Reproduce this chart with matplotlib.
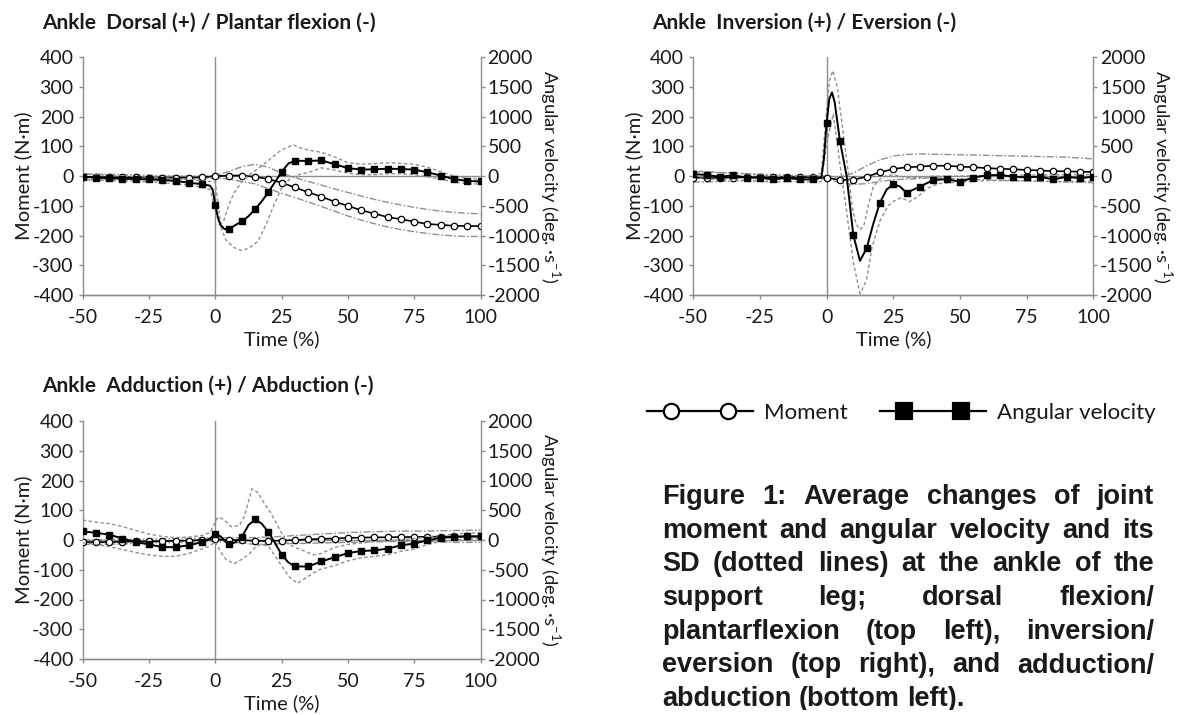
import matplotlib.pyplot as plt
import matplotlib as mpl
import numpy as np
from matplotlib.lines import Line2D
from matplotlib.legend_handler import HandlerLine2D
from matplotlib.transforms import Bbox, TransformedBbox

# ---------------- data (moment in N*m on left axis, angular velocity in deg/s on right axis)
# Panel 1: dorsal / plantar flexion
p1_mom_t = [-50, -45, -40, -35, -30, -25, -20, -15, -10, -5, 0, 5, 10, 15, 20, 25, 30, 35, 40, 45,
            50, 55, 60, 65, 70, 75, 80, 85, 90, 95, 100]
p1_mom = [-3, -3, -4, -4, -4, -5, -5, -5, -5, -4, 0, 2, 2, -2, -10, -22, -38, -54, -69, -86,
          -100, -115, -126, -138, -145, -153, -161, -164, -167, -168, -168]
p1_mom_sd_t = [-50, -40, -30, -20, -10, -5, 0, 5, 10, 15, 20, 25, 30, 35, 40, 45, 50, 55, 60, 65,
               70, 75, 80, 85, 90, 95, 100]
p1_mom_hi = [8, 6, 4, 2, 0, 0, 2, 15, 32, 40, 30, 10, -5, -18, -30, -43, -55, -67, -78, -88,
             -97, -105, -112, -118, -122, -125, -127]
p1_mom_lo = [-12, -12, -11, -11, -10, -10, -5, -10, -18, -26, -42, -58, -72, -87, -102, -118, -134,
             -148, -160, -171, -180, -187, -193, -198, -201, -203, -203]
p1_av_t = [-50, -45, -40, -35, -30, -25, -20, -15, -10, -5, -2, -1, 0, 1, 2, 3.5, 5, 7.5, 10, 12.5,
           15, 17.5, 20, 22.5, 25, 27.5, 30, 35, 40, 45, 50, 55, 60, 65, 70, 75, 80, 85, 90, 95, 100]
p1_av = [-10, -25, -35, -40, -50, -55, -65, -80, -110, -135, -160, -225, -485, -700, -825, -890,
         -895, -825, -760, -675, -555, -425, -270, -100, 70, 210, 260, 255, 265, 200, 135, 110, 115,
         125, 120, 110, 65, 10, -50, -80, -90]
p1_av_hi_t = [-50, -40, -30, -20, -10, -5, -2, 0, 1, 2, 3, 5, 7, 10, 12, 15, 18, 21, 24, 27, 29.5,
              32, 35, 40, 45, 50, 55, 60, 65, 70, 75, 80, 85, 90, 95, 100]
p1_av_hi = [40, 15, -10, -25, -60, -75, -90, -100, -450, -800, -775, -500, -285, -100, 0, 90, 190,
            300, 410, 485, 525, 475, 440, 400, 325, 225, 200, 210, 225, 215, 200, 150, 75, 0, -40, -50]
p1_av_lo_t = [-50, -40, -30, -20, -10, -5, -2, 0, 2, 4, 7, 10, 13, 16, 19, 22, 25, 28, 31, 35, 40,
              45, 50, 55, 60, 65, 70, 75, 80, 85, 90, 95, 100]
p1_av_lo = [-60, -75, -85, -110, -150, -190, -225, -550, -850, -1075, -1200, -1255, -1200, -1100,
            -825, -500, -200, -50, 20, 60, 140, 100, 50, 25, 25, 40, 40, 25, -10, -50, -100, -125, -135]

# Panel 2: inversion / eversion
p2_mom_t = p1_mom_t
p2_mom = [-5, -7, -5, -5, -4, -4, -4, -3, -3, -4, -5, -13, -12, -2, 13, 24, 30, 32, 35, 35,
          32, 30, 27, 25, 23, 21, 19, 17, 16, 15, 14]
p2_mom_sd_t = [-50, -40, -30, -20, -10, 0, 5, 10, 15, 20, 25, 30, 35, 40, 50, 60, 70, 80, 90, 100]
p2_mom_hi = [15, 12, 8, 5, 3, 0, -3, 10, 35, 55, 68, 73, 75, 74, 72, 70, 68, 66, 64, 58]
p2_mom_lo = [-20, -18, -15, -12, -10, -10, -22, -28, -25, -18, -12, -10, -8, -5, -10, -12, -15,
             -18, -20, -22]
p2_av_t = [-50, -45, -40, -35, -30, -25, -20, -15, -10, -5, -2, -1, 0, 1, 2, 3, 5, 7.5, 10, 12.5,
           15, 17.5, 20, 22.5, 25, 27.5, 30, 35, 40, 45, 50, 55, 60, 65, 70, 75, 80, 85, 90, 95, 100]
p2_av = [35, 20, -10, 15, -25, -25, -55, -25, -55, -55, -25, 300, 900, 1300, 1410, 1250, 590, 0,
         -990, -1425, -1215, -800, -445, -225, -135, -175, -280, -175, -65, -50, -95, -25, 15, 20,
         -10, -20, -10, -55, -10, -35, -10]
p2_av_hi_t = [-50, -40, -30, -20, -10, -5, -2, 0, 1, 2.3, 4, 6, 8, 9.5, 11, 12.5, 14, 15.5, 17.5,
              20, 22, 25, 30, 35, 40, 50, 60, 70, 80, 90, 100]
p2_av_hi = [90, 60, 40, 0, 0, 10, 50, 1100, 1600, 1775, 1500, 800, 100, -500, -800, -900, -825,
            -515, -175, -50, 0, 25, -25, -25, 0, 0, 10, 15, 20, 25, 25]
p2_av_lo_t = [-50, -40, -30, -20, -10, -5, -2, 0, 2.5, 5, 7.5, 10, 12.5, 15, 17, 20, 23, 25, 28,
              31, 34, 38, 42, 50, 60, 70, 80, 90, 100]
p2_av_lo = [-25, -60, -75, -100, -90, -100, -90, 550, 1050, 200, -600, -1450, -1975, -1750, -1200,
            -750, -500, -425, -360, -430, -350, -200, -125, -100, -75, -75, -85, -90, -90]

# Panel 3: adduction / abduction
p3_mom_t = p1_mom_t
p3_mom = [-7, -7, -7, -6, -5, -5, -4, -3, -2, 0, 2, 0, 0, -3, -3, -2, 0, 2, 4, 5,
          7, 8, 9, 9, 10, 10, 11, 11, 12, 12, 12]
p3_mom_sd_t = [-50, -40, -30, -20, -10, 0, 5, 10, 15, 20, 25, 30, 40, 50, 60, 70, 80, 90, 100]
p3_mom_hi = [0, 2, 3, 4, 5, 8, 7, 8, 8, 10, 12, 15, 20, 25, 28, 30, 30, 32, 33]
p3_mom_lo = [-15, -14, -12, -10, -8, -5, -8, -10, -15, -15, -12, -12, -10, -8, -6, -5, -5, -8, -8]
p3_av_t = [-50, -45, -40, -35, -30, -25, -20, -15, -10, -5, -2, 0, 2, 5, 7.5, 10, 12.5, 15, 17.5,
           20, 22.5, 25, 27.5, 30, 35, 40, 45, 50, 55, 60, 65, 70, 75, 80, 85, 90, 95, 100]
p3_av = [145, 120, 90, 25, -35, -75, -120, -120, -90, -35, 25, 105, 60, -75, -40, 50, 250, 345,
         275, 135, -50, -245, -375, -445, -445, -360, -290, -220, -185, -175, -145, -90, -60, -5,
         35, 50, 60, 60]
p3_av_hi_t = [-50, -45, -40, -35, -30, -25, -20, -15, -10, -5, -2, 1, 3, 6, 9, 11, 13.8, 16, 18,
              21, 24, 27, 30, 33, 37, 40, 45, 50, 55, 60, 70, 80, 90, 100]
p3_av_hi = [335, 300, 275, 225, 160, 100, 60, 40, 50, 75, 125, 385, 350, 225, 240, 400, 860, 800,
            650, 450, 200, -50, -125, -175, -250, -225, -125, -75, -50, -25, 0, 50, 100, 125]
p3_av_lo_t = [-50, -45, -40, -35, -30, -25, -20, -15, -10, -5, -2, 0, 2, 4, 7, 10, 13, 15, 17, 20,
              23, 26, 28, 31, 34.5, 39, 45, 50, 55, 60, 65, 70, 75, 80, 85, 90, 95, 100]
p3_av_lo = [-45, -75, -110, -160, -210, -250, -275, -275, -225, -150, -100, -25, -200, -325, -400,
            -325, -225, -125, -75, -100, -300, -500, -625, -730, -625, -500, -430, -350, -300, -275,
            -250, -190, -150, -75, -25, 0, 15, 25]

titles = ['Ankle  Dorsal (+) / Plantar flexion (-)',
          'Ankle  Inversion (+) / Eversion (-)',
          'Ankle  Adduction (+) / Abduction (-)']

caption_lines = ['Figure 1: Average changes of joint',
                 'moment and angular velocity and its',
                 'SD (dotted lines) at the ankle of the',
                 'support leg; dorsal flexion/',
                 'plantarflexion (top left), inversion/',
                 'eversion (top right), and adduction/',
                 'abduction (bottom left).']

W, H = 1180, 715
GRAY = '#8c8c8c'
SD_GRAY = '#8f8f8f'


def px(x, y):
    # pixel position (from top-left) -> figure fraction
    return x / W, 1 - y / H


def draw_panel(fig, box, title, mom, av):
    left, top, right, bottom = box
    x0, y0 = px(left, bottom)
    ax = fig.add_axes([x0, y0, (right - left) / W, (bottom - top) / H])
    ax2 = ax.twinx()

    for a in (ax, ax2):
        a.spines['top'].set_visible(False)
        for s in ('left', 'right', 'bottom'):
            a.spines[s].set_color(GRAY)
            a.spines[s].set_linewidth(1.0)
        a.tick_params(which='major', direction='out', length=3, width=1, color=GRAY,
                      labelsize=14, pad=2)
    ax.tick_params(axis='x', pad=7)
    ax.tick_params(axis='y', pad=3.5)
    ax2.spines['left'].set_visible(False)
    ax.spines['right'].set_visible(False)

    ax.set_xlim(-50, 100)
    ax.set_ylim(-400, 400)
    ax2.set_ylim(-2000, 2000)
    ax.set_xticks(np.arange(-50, 101, 25))
    ax.set_yticks(np.arange(-400, 401, 100))
    ax2.set_yticks(np.arange(-2000, 2001, 500))

    ax.axhline(0, color=GRAY, lw=1.0, zorder=1)
    ax.axvline(0, color=GRAY, lw=1.0, zorder=1)

    # SD bands
    ax.plot(mom['sd_t'], mom['hi'], color=SD_GRAY, lw=1.0, dashes=(5, 1.5, 1.2, 1.5))
    ax.plot(mom['sd_t'], mom['lo'], color=SD_GRAY, lw=1.0, dashes=(5, 1.5, 1.2, 1.5))
    ax2.plot(av['hi_t'], av['hi'], color=SD_GRAY, lw=1.0, dashes=(2.5, 1.8))
    ax2.plot(av['lo_t'], av['lo'], color=SD_GRAY, lw=1.0, dashes=(2.5, 1.8))

    # means, markers every 5 %
    t = np.array(mom['t'])
    ax.plot(t, mom['y'], color='black', lw=1.2, marker='o', ms=4.6, mfc='white', mec='black',
            mew=0.9, markevery=list(t % 5 == 0), zorder=3)
    t = np.array(av['t'])
    ax2.plot(t, av['y'], color='black', lw=1.4, marker='s', ms=4.2, mfc='black', mec='black',
             markevery=list(t % 5 == 0), zorder=3)

    ax.set_xlabel('Time (%)', fontsize=14.5, labelpad=3)
    ax.set_ylabel('Moment (N\u00b7m)', fontsize=14.5, labelpad=0)
    ax2.set_ylabel('Angular velocity (deg. \u00b7s$^{\\mathregular{-1}}$)', fontsize=13.2,
                   rotation=270, labelpad=16)

    tx, ty = px(left - 41, top - 35)
    fig.text(tx, ty, title, fontsize=15, fontweight='bold', va='center', ha='left')
    return ax, ax2


def justify_caption(fig, lines, left, right, y_first, dy, size, clip_y):
    renderer = fig.canvas.get_renderer()
    clip = TransformedBbox(Bbox([[0, 1 - clip_y / H], [1, 1]]), fig.transFigure)
    space = None
    for i, line in enumerate(lines):
        words = line.split()
        y = px(0, y_first + i * dy)[1]
        texts = [fig.text(0, y, w, fontsize=size, fontweight='bold', family='Liberation Sans',
                          va='center', ha='left') for w in words]
        widths = [tt.get_window_extent(renderer).width for tt in texts]
        if space is None:
            probe = fig.text(0, 0, 'a a', fontsize=size, fontweight='bold',
                             family='Liberation Sans')
            probe2 = fig.text(0, 0, 'aa', fontsize=size, fontweight='bold',
                              family='Liberation Sans')
            space = (probe.get_window_extent(renderer).width
                     - probe2.get_window_extent(renderer).width)
            probe.remove()
            probe2.remove()
        if i == len(lines) - 1:
            gap = space
        else:
            gap = (right - left - sum(widths)) / (len(words) - 1)
        x = left
        for tt, w in zip(texts, widths):
            tt.set_x(x / W)
            tt.set_clip_box(clip)
            tt.set_clip_on(True)
            x += w + gap


def main():
    mpl.rcParams['font.family'] = ['Lato', 'DejaVu Sans']
    mpl.rcParams['axes.unicode_minus'] = False
    mpl.rcParams['text.color'] = '#1a1a1a'
    mpl.rcParams['xtick.color'] = '#1a1a1a'
    mpl.rcParams['ytick.color'] = '#1a1a1a'
    mpl.rcParams['axes.labelcolor'] = '#1a1a1a'

    fig = plt.figure(figsize=(W / 100, H / 100), dpi=100)

    panels = [
        ((82.7, 57.3, 480.5, 295.0), titles[0],
         dict(t=p1_mom_t, y=p1_mom, sd_t=p1_mom_sd_t, hi=p1_mom_hi, lo=p1_mom_lo),
         dict(t=p1_av_t, y=p1_av, hi_t=p1_av_hi_t, hi=p1_av_hi, lo_t=p1_av_lo_t, lo=p1_av_lo)),
        ((693.3, 57.3, 1093.3, 295.0), titles[1],
         dict(t=p2_mom_t, y=p2_mom, sd_t=p2_mom_sd_t, hi=p2_mom_hi, lo=p2_mom_lo),
         dict(t=p2_av_t, y=p2_av, hi_t=p2_av_hi_t, hi=p2_av_hi, lo_t=p2_av_lo_t, lo=p2_av_lo)),
        ((82.7, 421.0, 480.5, 659.0), titles[2],
         dict(t=p3_mom_t, y=p3_mom, sd_t=p3_mom_sd_t, hi=p3_mom_hi, lo=p3_mom_lo),
         dict(t=p3_av_t, y=p3_av, hi_t=p3_av_hi_t, hi=p3_av_hi, lo_t=p3_av_lo_t, lo=p3_av_lo)),
    ]
    for box, title, mom, av in panels:
        draw_panel(fig, box, title, mom, av)

    # legend: line running past the two markers on both sides
    legend_items = [
        ('Moment', 647, dict(marker='o', mfc='white')),
        ('Angular velocity', 880, dict(marker='s', mfc='black')),
    ]
    for label, xpix, mk in legend_items:
        h_line = Line2D([], [], color='black', lw=1.6)
        h_mark = Line2D([], [], ls='none', ms=11, mec='black', mew=1.6, **mk)
        fig.legend([(h_line, h_mark)], [label], loc='center left',
                   bbox_to_anchor=px(xpix, 413), frameon=False, fontsize=16,
                   handlelength=4.75, handletextpad=0.5, borderpad=0, borderaxespad=0,
                   handler_map={h_line: HandlerLine2D(numpoints=2, marker_pad=0),
                                h_mark: HandlerLine2D(numpoints=2, marker_pad=1.1)})

    justify_caption(fig, caption_lines, 662, 1154, 497, 33.7, 19.5, 710)

    fig.savefig('out.png', dpi=100)


if __name__ == '__main__':
    main()
